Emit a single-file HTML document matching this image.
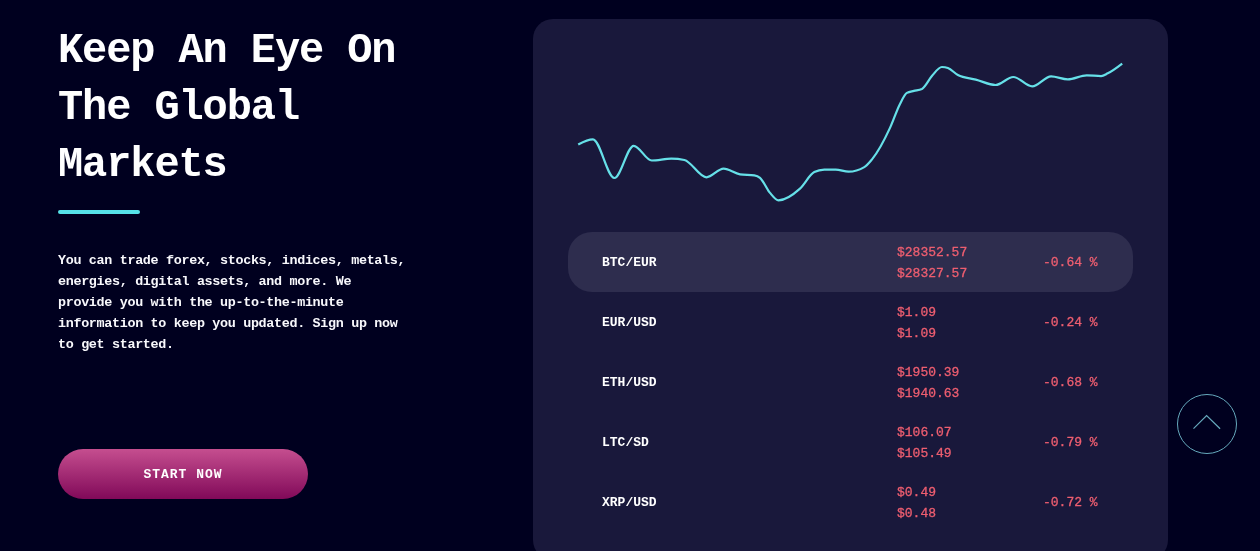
<!DOCTYPE html>
<html><head><meta charset="utf-8">
<style>
*{margin:0;padding:0;box-sizing:border-box}
.h1,.p,.btn,.row{will-change:transform}
html,body{width:1260px;height:551px;overflow:hidden;background:#00001f;font-family:"Liberation Mono",monospace;color:#fff}
.h1{position:absolute;left:58px;top:23px;font-size:42px;letter-spacing:-1.1px;font-weight:bold;line-height:57px;color:#fff;white-space:nowrap}
.bar{position:absolute;left:58px;top:210px;width:82px;height:4px;border-radius:2px;background:#56e2e8}
.p{position:absolute;left:58px;top:250px;font-size:13.4px;letter-spacing:-0.32px;font-weight:bold;line-height:21px;color:#f8f8fc;white-space:nowrap}
.btn{position:absolute;left:58px;top:449px;width:250px;height:50px;border-radius:25px;background:linear-gradient(#c54e8f,#810959);color:#fff;font-size:13px;font-weight:bold;text-align:center;line-height:52px;letter-spacing:1px}
.card{position:absolute;left:533px;top:19px;width:635px;height:541px;border-radius:20px;background:#19183b}
.chart{position:absolute;left:0;top:0}
.row{position:absolute;left:568px;width:565px;height:60px;border-radius:24px}
.row.hl{background:#2e2d4e}
.row .pair{position:absolute;left:34px;top:1px;line-height:60px;font-size:13px;font-weight:bold;color:#fff}
.row .pr{position:absolute;left:329px;top:10px;font-size:13px;-webkit-text-stroke:0.3px #ee5e70;line-height:21px;color:#ee5e70}
.row .ch{position:absolute;left:475px;top:1px;-webkit-text-stroke:0.3px #ee5e70;line-height:60px;font-size:13px;color:#ee5e70}
.up{position:absolute;left:1177px;top:394px;width:60px;height:60px;border-radius:50%;border:1px solid #66a9bd}
</style></head>
<body>
<div class="h1">Keep An Eye On<br>The Global<br>Markets</div>
<div class="bar"></div>
<div class="p">You can trade forex, stocks, indices, metals,<br>energies, digital assets, and more. We<br>provide you with the up-to-the-minute<br>information to keep you updated. Sign up now<br>to get started.</div>
<div class="btn">START NOW</div>
<div class="card"></div>
<svg class="chart" width="1260" height="551" viewBox="0 0 1260 551">
<path id="ch" d="M578.2,144.5 C583.1,141.9 588.0,139.3 592.9,139.3 C600.1,139.3 607.2,178.0 614.4,178.0 C620.8,178.0 627.3,145.8 633.7,145.8 C639.7,145.8 645.7,160.5 651.7,160.5 C658.2,160.5 664.8,158.7 671.3,158.7 C675.7,158.7 680.0,159.1 684.4,160.0 C691.7,161.5 699.1,177.3 706.4,177.3 C712.1,177.3 717.9,168.6 723.6,168.6 C729.1,168.6 734.5,173.5 740.0,174.3 C744.8,175.0 749.5,174.7 754.3,175.4 C756.2,175.7 758.1,176.3 760.0,177.9 C763.3,180.6 766.7,189.0 770.0,192.9 C772.8,196.2 775.7,200.3 778.5,200.3 C785.7,200.3 792.8,195.1 800.0,188.6 C804.8,184.3 809.5,174.4 814.3,172.1 C817.6,170.5 821.0,169.8 824.3,169.7 C828.1,169.6 831.9,169.6 835.7,169.6 C840.0,169.6 844.3,171.7 848.6,171.7 C853.8,171.7 859.1,170.2 864.3,167.1 C866.9,165.6 869.4,162.5 872.0,159.4 C878.0,152.1 884.0,140.9 890.0,127.9 C893.3,120.7 896.7,110.3 900.0,103.9 C902.3,99.5 904.6,94.2 906.9,92.9 C909.2,91.6 911.6,91.5 913.9,90.9 C916.6,90.2 919.2,90.2 921.9,88.9 C925.2,87.2 928.6,79.7 931.9,76.0 C935.2,72.3 938.6,67.0 941.9,67.0 C943.9,67.0 945.9,67.3 947.9,68.0 C951.2,69.1 954.6,73.3 957.9,75.0 C963.9,78.1 969.8,78.0 975.8,79.6 C982.4,81.3 989.0,85.0 995.6,85.0 C1001.5,85.0 1007.4,77.0 1013.3,77.0 C1019.6,77.0 1025.9,86.4 1032.2,86.4 C1038.5,86.4 1044.8,76.4 1051.1,76.4 C1056.7,76.4 1062.2,79.4 1067.8,79.4 C1074.1,79.4 1080.4,75.3 1086.7,75.3 C1091.5,75.3 1096.3,76.1 1101.1,76.1 C1103.3,76.1 1105.6,74.4 1107.8,73.3 C1112.6,70.9 1117.4,67.3 1122.2,63.6" fill="none" stroke="#66e0e8" stroke-width="2.2"/>
</svg>
<div class="row hl" style="top:232px"><div class="pair">BTC/EUR</div><div class="pr">$28352.57<br>$28327.57</div><div class="ch">-0.64 %</div></div>
<div class="row" style="top:292px"><div class="pair">EUR/USD</div><div class="pr">$1.09<br>$1.09</div><div class="ch">-0.24 %</div></div>
<div class="row" style="top:352px"><div class="pair">ETH/USD</div><div class="pr">$1950.39<br>$1940.63</div><div class="ch">-0.68 %</div></div>
<div class="row" style="top:412px"><div class="pair">LTC/SD</div><div class="pr">$106.07<br>$105.49</div><div class="ch">-0.79 %</div></div>
<div class="row" style="top:472px"><div class="pair">XRP/USD</div><div class="pr">$0.49<br>$0.48</div><div class="ch">-0.72 %</div></div>
<div class="up"></div>
<svg style="position:absolute;left:0;top:0" width="1260" height="551"><path d="M1193.5,428.7 L1206.6,415.6 L1220.1,428.7" fill="none" stroke="#66a9bd" stroke-width="1.2"/></svg>
</body></html>
